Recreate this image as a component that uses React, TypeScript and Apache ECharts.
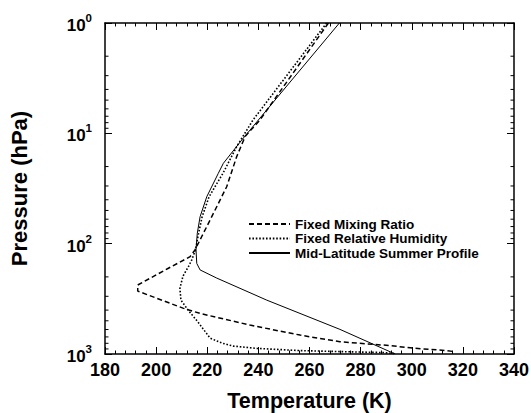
import React, { useEffect, useRef } from "react";
import * as echarts from "echarts";

// Fixed Mixing Ratio (dashed)
const fmrTemperature = [267.4, 240.6, 234.8, 231.5, 227.6, 225.0, 221.1, 217.8, 215.2, 213.3, 204.8, 192.8, 192.8, 210.5, 217.2, 236.7, 256.3, 271.9, 291.5, 300.5, 313.8, 317.0];
const fmrPressure = [1, 7.57, 10.7, 16.3, 30.5, 40.3, 61.1, 86.6, 114, 131, 167, 237, 269, 384, 429, 547, 674, 775, 839, 885, 931, 955];

// Fixed Relative Humidity (dotted)
const frhTemperature = [266.7, 237.9, 231.5, 226.2, 220.7, 218.0, 216.6, 215.4, 213.9, 212.6, 210.5, 209.3, 209.7, 212.5, 216.4, 221.1, 225.8, 230.1, 239.4, 256.3, 271.9, 289.5, 293.5];
const frhPressure = [1, 7.57, 13.2, 22.9, 37.6, 57, 80.7, 114, 141, 162, 197, 254, 325, 400, 514, 718, 797, 848, 890, 931, 951, 971, 992];

// Mid-Latitude Summer Profile (solid)
const mlsTemperature = [271.7, 240.0, 233.5, 226.3, 224.3, 219.8, 217.2, 216.1, 215.6, 215.9, 217.2, 223.7, 243.3, 271.9, 293.5];
const mlsPressure = [1, 7.57, 11.5, 18.7, 23.1, 37.6, 57.0, 80.7, 114, 151, 173, 205, 325, 598, 1000];

const seriesNames = ["Fixed Mixing Ratio", "Fixed Relative Humidity", "Mid-Latitude Summer Profile"];

const xMin = 180;
const xMax = 340;
const xInterval = 20;
const yMin = 1;
const yMax = 1000;
const minorPressureTicks = [2, 3, 4, 5, 6, 7, 8, 9, 20, 30, 40, 50, 60, 70, 80, 90, 200, 300, 400, 500, 600, 700, 800, 900];

const FONT = "'Liberation Sans', Arial, Helvetica, sans-serif";

function zip(a: number[], b: number[]) {
  return a.map((v, i) => [v, b[i]]);
}

export default function App() {
  const ref = useRef<HTMLDivElement>(null);
  useEffect(() => {
    if (!ref.current) return;
    const chart = echarts.init(ref.current, undefined, { renderer: "svg" });
    const xAxisCommon = {
      type: "value",
      min: xMin,
      max: xMax,
      interval: xInterval,
      axisLine: { show: true, lineStyle: { color: "#000", width: 1.5 } },
      axisTick: { show: true, inside: true, length: 7, lineStyle: { color: "#000", width: 1 } },
      minorTick: { show: true, splitNumber: 5, length: 3.5, lineStyle: { color: "#000", width: 1 } },
      splitLine: { show: false },
    };
    const yAxisCommon = {
      type: "log",
      logBase: 10,
      min: yMin,
      max: yMax,
      inverse: true,
      axisLine: { show: true, lineStyle: { color: "#000", width: 1.5 } },
      axisTick: { show: true, inside: true, length: 7, lineStyle: { color: "#000", width: 1 } },
      splitLine: { show: false },
    };
    chart.setOption({
      animation: false,
      backgroundColor: "#fff",
      textStyle: { fontFamily: FONT },
      grid: { left: 105, right: 17, top: 23, bottom: 59, containLabel: false, outerBoundsMode: "none" },
      legend: {
        data: seriesNames,
        orient: "vertical",
        left: 248,
        top: 217,
        padding: 0,
        itemWidth: 41,
        itemHeight: 14,
        itemGap: 0.5,
        itemStyle: { opacity: 0 },
        textStyle: { fontFamily: FONT, fontSize: 13.5, fontWeight: "bold", color: "#000", lineHeight: 14 },
        selectedMode: false,
      },
      xAxis: [
        {
          ...xAxisCommon,
          position: "bottom",
          name: "Temperature (K)",
          nameLocation: "middle",
          nameGap: 36,
          nameTextStyle: { fontFamily: FONT, fontSize: 21.5, fontWeight: "bold", color: "#000", lineHeight: 21 },
          axisLabel: { show: true, margin: 7, fontFamily: FONT, fontSize: 18, fontWeight: "bold", color: "#000" },
        },
        {
          ...xAxisCommon,
          position: "top",
          axisLabel: { show: false },
        },
      ],
      yAxis: [
        {
          ...yAxisCommon,
          position: "left",
          name: "Pressure (hPa)",
          nameLocation: "middle",
          nameGap: 75,
          nameRotate: 90,
          nameTextStyle: { fontFamily: FONT, fontSize: 22, fontWeight: "bold", color: "#000" },
          axisLabel: {
            show: true,
            margin: 13,
            formatter: (v: number) => `{b|10}{s|${Math.round(Math.log10(v))}}`,
            rich: {
              b: { fontFamily: FONT, fontSize: 17, fontWeight: "bold", color: "#000", lineHeight: 22, verticalAlign: "bottom" },
              s: { fontFamily: FONT, fontSize: 11.5, fontWeight: "bold", color: "#000", lineHeight: 22, verticalAlign: "top" },
            },
          },
        },
        {
          ...yAxisCommon,
          position: "right",
          axisLabel: { show: false },
        },
      ],
      series: [
        {
          name: seriesNames[0],
          type: "line",
          data: zip(fmrTemperature, fmrPressure),
          symbol: "none",
          lineStyle: { color: "#000", width: 1.5, type: [5, 3] },
          itemStyle: { color: "#000" },
        },
        {
          name: seriesNames[1],
          type: "line",
          data: zip(frhTemperature, frhPressure),
          symbol: "none",
          lineStyle: { color: "#000", width: 1.6, type: [1.6, 1.8] },
          itemStyle: { color: "#000" },
        },
        {
          name: seriesNames[2],
          type: "line",
          data: zip(mlsTemperature, mlsPressure),
          symbol: "none",
          lineStyle: { color: "#000", width: 1 },
          itemStyle: { color: "#000" },
        },
        {
          name: "minorTicks",
          type: "custom",
          silent: true,
          data: minorPressureTicks.map((p) => [xMin, p]),
          encode: { x: 0, y: 1 },
          clip: false,
          renderItem: (_params: any, api: any) => {
            const p = api.value(1);
            const l = api.coord([xMin, p]);
            const r = api.coord([xMax, p]);
            return {
              type: "group",
              children: [
                { type: "line", shape: { x1: l[0], y1: l[1], x2: l[0] + 3.5, y2: l[1] }, style: { stroke: "#000", lineWidth: 1 } },
                { type: "line", shape: { x1: r[0], y1: r[1], x2: r[0] - 3.5, y2: r[1] }, style: { stroke: "#000", lineWidth: 1 } },
              ],
            };
          },
        },
      ],
    });
    return () => chart.dispose();
  }, []);
  return <div ref={ref} style={{ position: "fixed", left: 0, top: 0, width: 531, height: 413 }} />;
}
